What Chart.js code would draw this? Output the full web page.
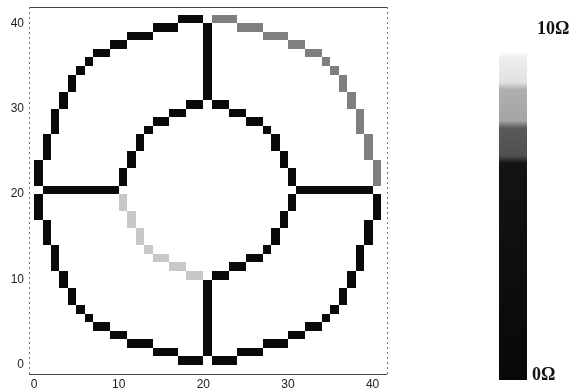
<!DOCTYPE html>
<html>
<head>
<meta charset="utf-8">
<script src="https://cdn.jsdelivr.net/npm/chart.js@4/dist/chart.umd.min.js"></script>
<style>
  html, body { margin: 0; padding: 0; background: #fff; }
  #wrap { width: 574px; height: 391px; position: relative; }
</style>
</head>
<body>
<div id="wrap"><canvas id="grid"></canvas></div>
<script>
// cell runs: [col, row, width, height, ohms]
const outerLower = [
  [17, 0, 3, 1, 0.5], [14, 1, 3, 1, 0.5], [11, 2, 3, 1, 0.5], [9, 3, 2, 1, 0.5],
  [7, 4, 2, 1, 0.5], [6, 5, 1, 1, 0.5], [5, 6, 1, 1, 0.5], [4, 7, 1, 2, 0.5],
  [3, 9, 1, 2, 0.5], [2, 11, 1, 3, 0.5], [1, 14, 1, 3, 0.5], [0, 17, 1, 3, 0.5],
  [21, 0, 3, 1, 0.5], [24, 1, 3, 1, 0.5], [27, 2, 3, 1, 0.5], [30, 3, 2, 1, 0.5],
  [32, 4, 2, 1, 0.5], [34, 5, 1, 1, 0.5], [35, 6, 1, 1, 0.5], [36, 7, 1, 2, 0.5],
  [37, 9, 1, 2, 0.5], [38, 11, 1, 3, 0.5], [39, 14, 1, 3, 0.5], [40, 17, 1, 3, 0.5]
];
const outerUpperLeft = [
  [17, 40, 3, 1, 0.5], [14, 39, 3, 1, 0.5], [11, 38, 3, 1, 0.5], [9, 37, 2, 1, 0.5],
  [7, 36, 2, 1, 0.5], [6, 35, 1, 1, 0.5], [5, 34, 1, 1, 0.5], [4, 32, 1, 2, 0.5],
  [3, 30, 1, 2, 0.5], [2, 27, 1, 3, 0.5], [1, 24, 1, 3, 0.5], [0, 21, 1, 3, 0.5]
];
const outerUpperRight = [
  [21, 40, 3, 1, 7.3], [24, 39, 3, 1, 7.3], [27, 38, 3, 1, 7.3], [30, 37, 2, 1, 7.3],
  [32, 36, 2, 1, 7.3], [34, 35, 1, 1, 7.3], [35, 34, 1, 1, 7.3], [36, 32, 1, 2, 7.3],
  [37, 30, 1, 2, 7.3], [38, 27, 1, 3, 7.3], [39, 24, 1, 3, 7.3], [40, 21, 1, 3, 7.3]
];
const innerLowerLeft = [
  [18, 10, 2, 1, 8.4], [16, 11, 2, 1, 8.4], [14, 12, 2, 1, 8.4], [13, 13, 1, 1, 8.4],
  [12, 14, 1, 2, 8.4], [11, 16, 1, 2, 8.4], [10, 18, 1, 2, 8.4]
];
const innerRest = [
  [21, 10, 2, 1, 0.5], [23, 11, 2, 1, 0.5], [25, 12, 2, 1, 0.5], [27, 13, 1, 1, 0.5],
  [28, 14, 1, 2, 0.5], [29, 16, 1, 2, 0.5], [30, 18, 1, 2, 0.5],
  [18, 30, 2, 1, 0.5], [16, 29, 2, 1, 0.5], [14, 28, 2, 1, 0.5], [13, 27, 1, 1, 0.5],
  [12, 25, 1, 2, 0.5], [11, 23, 1, 2, 0.5], [10, 21, 1, 2, 0.5],
  [21, 30, 2, 1, 0.5], [23, 29, 2, 1, 0.5], [25, 28, 2, 1, 0.5], [27, 27, 1, 1, 0.5],
  [28, 25, 1, 2, 0.5], [29, 23, 1, 2, 0.5], [30, 21, 1, 2, 0.5]
];
const spokes = [
  [20, 1, 1, 9, 0.5], [20, 31, 1, 9, 0.5], [1, 20, 9, 1, 0.5], [31, 20, 9, 1, 0.5]
];

const xTicks = [0, 10, 20, 30, 40];
const yTicks = [0, 10, 20, 30, 40];

// colour bar, ohms -> grey level
const barOhms = [0, 6.2, 6.4, 7.2, 7.4, 8.3, 8.5, 9.2, 9.4, 10];
const barGrays = [8, 20, 80, 90, 165, 175, 225, 238, 255, 255];

const allRuns = [...outerLower, ...outerUpperLeft, ...outerUpperRight, ...innerLowerLeft, ...innerRest, ...spokes];

function grayAt(ohm) {
  let g = barGrays[barGrays.length - 1];
  for (let i = 1; i < barOhms.length; i++) {
    if (ohm <= barOhms[i]) {
      const t = (ohm - barOhms[i - 1]) / (barOhms[i] - barOhms[i - 1]);
      g = barGrays[i - 1] + t * (barGrays[i] - barGrays[i - 1]);
      break;
    }
  }
  g = Math.round(g);
  return `rgb(${g},${g},${g})`;
}

const cellPlugin = {
  id: "cells",
  beforeDatasetsDraw(chart) {
    const { ctx, chartArea: a, scales: { x, y } } = chart;
    ctx.save();
    allRuns.forEach(([c, r, w, h, ohm]) => {
      const left = Math.round(x.getPixelForValue(c));
      const right = Math.round(x.getPixelForValue(c + w));
      const top = Math.round(y.getPixelForValue(r + h));
      const bottom = Math.round(y.getPixelForValue(r));
      ctx.fillStyle = grayAt(ohm);
      ctx.fillRect(left, top, right - left, bottom - top);
    });

    // frame
    ctx.lineWidth = 1;
    ctx.strokeStyle = "#444";
    ctx.beginPath();
    ctx.moveTo(a.left, a.top + 0.5); ctx.lineTo(a.right, a.top + 0.5);
    ctx.moveTo(a.left, a.bottom + 0.5); ctx.lineTo(a.right, a.bottom + 0.5);
    ctx.stroke();
    ctx.strokeStyle = "#777";
    ctx.setLineDash([2, 3]);
    ctx.beginPath();
    ctx.moveTo(a.left + 0.5, a.top); ctx.lineTo(a.left + 0.5, a.bottom);
    ctx.moveTo(a.right + 0.5, a.top); ctx.lineTo(a.right + 0.5, a.bottom);
    ctx.stroke();
    ctx.restore();
  },
  afterDraw(chart) {
    const ctx = chart.ctx;
    const barLeft = 499, barRight = 527, barBottom = 380, barTop = 30;
    ctx.save();
    const grad = ctx.createLinearGradient(0, barBottom, 0, barTop);
    barOhms.forEach(v => grad.addColorStop(v / 10, grayAt(v)));
    ctx.fillStyle = grad;
    ctx.fillRect(barLeft, barTop, barRight - barLeft, barBottom - barTop);

    ctx.fillStyle = "#111";
    ctx.font = 'bold 18px "Liberation Serif", serif';
    ctx.textBaseline = "middle";
    ctx.textAlign = "left";
    ctx.fillText("10\u03a9", 537, 29);
    ctx.fillText("0\u03a9", 532, 375);
    ctx.restore();
  }
};

new Chart(document.getElementById("grid"), {
  type: "scatter",
  data: {
    datasets: [{
      data: allRuns.map(([c, r, w, h]) => ({ x: c + w / 2, y: r + h / 2 })),
      pointRadius: 0,
      pointHoverRadius: 0
    }]
  },
  options: {
    responsive: true,
    maintainAspectRatio: false,
    animation: false,
    layout: { padding: { top: 7, right: 187, left: 0, bottom: 0 } },
    plugins: { legend: { display: false }, tooltip: { enabled: false } },
    scales: {
      x: {
        type: "linear",
        min: -0.6,
        max: 41.7,
        grid: { display: false, drawTicks: false },
        border: { display: false },
        afterBuildTicks: s => { s.ticks = xTicks.map(v => ({ value: v })); },
        afterFit: s => { s.height = 17; s.paddingLeft = 0; s.paddingRight = 0; },
        ticks: { padding: 3, color: "#222", font: { family: "Liberation Sans", size: 12 }, maxRotation: 0 }
      },
      y: {
        type: "linear",
        min: -1.05,
        max: 41.9,
        grid: { display: false, drawTicks: false },
        border: { display: false },
        afterBuildTicks: s => { s.ticks = yTicks.map(v => ({ value: v })); },
        afterFit: s => { s.width = 29; s.paddingTop = 0; s.paddingBottom = 0; },
        ticks: { padding: 5, color: "#222", font: { family: "Liberation Sans", size: 12 } }
      }
    }
  },
  plugins: [cellPlugin]
});
</script>
</body>
</html>
